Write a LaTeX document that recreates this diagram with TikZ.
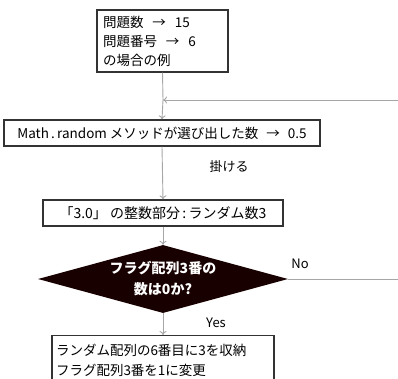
\documentclass[tikz,border=0pt]{standalone}
\usepackage{fontspec}
\setmainfont{Noto Sans CJK JP}
\usetikzlibrary{arrows.meta,shapes.geometric}
\begin{document}
\begin{tikzpicture}[x=1pt,y=-1pt,
  box/.style={draw=black!80,line width=1.3pt,fill=white,inner sep=0pt,font=\fontsize{13.5}{19}\selectfont},
  flow/.style={draw=black!35,line width=0.9pt,-{To[length=4pt,width=7pt]}},
  plain/.style={draw=black!35,line width=0.9pt},
  lbl/.style={font=\fontsize{13}{15}\selectfont,inner sep=0pt},
  decision/.style={diamond,fill=black!90!red,inner sep=0pt,minimum width=250pt,minimum height=68pt},
  dtext/.style={text=white,inner sep=0pt,align=center,font=\bfseries\fontsize{14}{21}\selectfont}]
\useasboundingbox (0,0) rectangle (398,378);
\clip (0,0) rectangle (398,378);
\node[box,minimum width=131pt,minimum height=62pt,text width=119pt,align=left] (b1) at (162.5,41) {問題数\hspace{9pt}→\hspace{9pt}15\\問題番号\hspace{9pt}→\hspace{9pt}6\\の場合の例};
\node[box,minimum width=316pt,minimum height=26pt] (b2) at (162,133) {Math\,.\,random メソッドが選び出した数\hspace{8pt}→\hspace{8pt}0.5};
\node[box,minimum width=240pt,minimum height=26pt,font=\fontsize{14}{19}\selectfont] (b3) at (163,213) {「3.0」\ の整数部分\,:\,ランダム数3};
\node[decision] (d) at (163,279) {};
\node[dtext] (dt) at (d.center) {フラグ配列3番の\\数は0か?};
\node[box,minimum width=222pt,minimum height=50pt,text width=214pt,align=left,anchor=north,font=\fontsize{13.5}{20}\selectfont] (b4) at (163,335) {ランダム配列の6番目に3を収納\\フラグ配列3番を1に変更};
\coordinate (r) at (398,100);
\coordinate (m) at (163,100);
\coordinate (no) at (398,279);
\draw[plain] (b1.south) -- (m);
\draw[flow] (m) -- (b2.north);
\draw[flow] (r) -- (m);
\draw[flow] (b2.south) -- (b3.north);
\draw[flow] (b3.south) -- (d.north);
\draw[flow] (d.south) -- (b4.north);
\draw[plain] (d.east) -- (no);
\node[lbl] (k) at (229,167) {掛ける};
\node[lbl] (nol) at (300,264) {No};
\node[lbl] (yes) at (216,323) {Yes};
\end{tikzpicture}
\end{document}
